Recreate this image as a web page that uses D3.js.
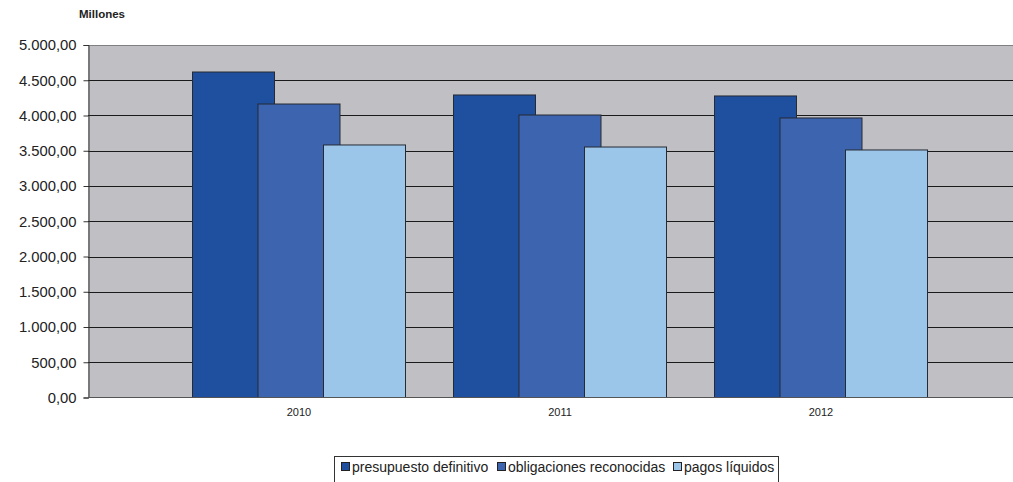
<!DOCTYPE html>
<html><head><meta charset="utf-8">
<script src="https://cdn.jsdelivr.net/npm/d3@7"></script>
<style>body{margin:0;background:#fff}svg{display:block;font-family:"Liberation Sans",Arial,sans-serif}</style>
</head><body><svg id="c" width="1013" height="482"></svg>
<script>
const years = ["2010","2011","2012"];
const seriesNames = ["presupuesto definitivo","obligaciones reconocidas","pagos líquidos"];
const presupuesto = [4617, 4291, 4277];
const obligaciones = [4163, 4007, 3965];
const pagos = [3582, 3553, 3511];
const yTicks = [0,500,1000,1500,2000,2500,3000,3500,4000,4500,5000];
const colors = ["#1f4f9f","#3d64ae","#9cc6e9"];

const svg = d3.select("#c");
const pL = 88, pR = 1013, pT = 45, pB = 397.5;
const y = d3.scaleLinear().domain([0,5000]).range([pB, pT]);
const x = d3.scaleBand().domain(years).range([168.5, 951.5]).padding(0);
const sub = d3.scalePoint().domain(seriesNames).range([-65.5, 65.5]);
const barW = 82;
const fmt = v => d3.format(",.2f")(v).replace(/,/g,"#").replace(".",",").replace(/#/g,".");

svg.append("rect").attr("x",pL).attr("y",pT).attr("width",pR-pL).attr("height",pB-pT).attr("fill","#c0c0c4");
// gridlines
svg.append("g").selectAll("line").data(yTicks.filter(d=>d>0)).join("line")
  .attr("x1",pL).attr("x2",pR).attr("y1",d=>Math.round(y(d))+0.5).attr("y2",d=>Math.round(y(d))+0.5)
  .attr("stroke",d=>d===5000?"#808080":"#1a1a1a").attr("stroke-width",1);

// y axis
const yAxis = svg.append("g").attr("transform",`translate(${pL+0.5},0)`)
  .call(d3.axisLeft(y).tickValues(yTicks).tickSize(5).tickPadding(7).tickFormat(fmt));
yAxis.select(".domain").attr("stroke","#333");
yAxis.selectAll(".tick line").attr("stroke","#333");
yAxis.selectAll("text").attr("font-size",14.8).attr("fill","#222").attr("font-family","Liberation Sans, Arial, sans-serif");

const data = [presupuesto, obligaciones, pagos];
seriesNames.forEach((s,si)=>{
  svg.append("g").selectAll("rect").data(years).join("rect")
    .attr("x",d=>x(d)+x.bandwidth()/2+sub(s)-barW/2)
    .attr("y",(d,i)=>y(data[si][i]))
    .attr("width",barW)
    .attr("height",(d,i)=>pB-y(data[si][i]))
    .attr("fill",colors[si]).attr("stroke","#262a33").attr("stroke-width",1);
});

// x axis
svg.append("line").attr("x1",pL).attr("x2",pR).attr("y1",pB).attr("y2",pB).attr("stroke","#555");
svg.append("g").selectAll("text").data(years).join("text")
  .attr("x",d=>x(d)+x.bandwidth()/2).attr("y",416).attr("text-anchor","middle")
  .attr("font-size",11).attr("fill","#222").text(d=>d);

svg.append("text").attr("x",102).attr("y",18).attr("text-anchor","middle").attr("font-size",11.5).attr("font-weight","bold").attr("fill","#222").text("Millones");

// legend
const lg = svg.append("g");
lg.append("rect").attr("x",334.5).attr("y",456.5).attr("width",444).attr("height",30).attr("fill","#fff").attr("stroke","#333");
const items = [{x:341, t:seriesNames[0]},{x:497, t:seriesNames[1]},{x:673, t:seriesNames[2]}];
items.forEach((it,i)=>{
  lg.append("rect").attr("x",it.x+0.5).attr("y",462.5).attr("width",8).attr("height",8).attr("fill",colors[i]).attr("stroke","#222");
  lg.append("text").attr("x",it.x+11).attr("y",471.5).attr("font-size",14).attr("fill","#222").text(it.t);
});
</script></body></html>
